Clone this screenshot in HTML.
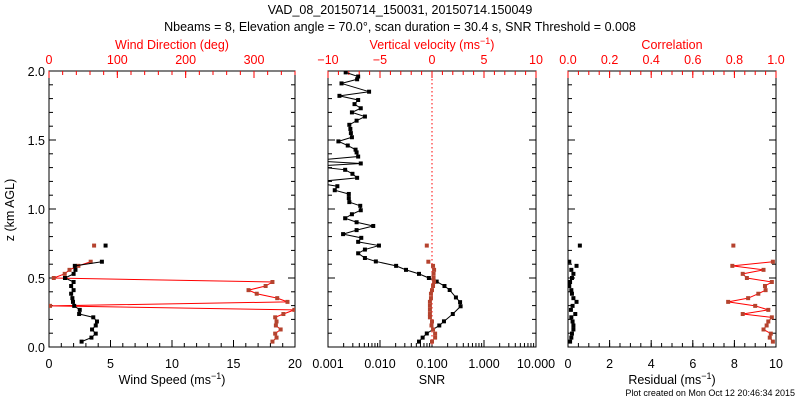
<!DOCTYPE html>
<html><head><meta charset="utf-8"><style>
html,body{margin:0;padding:0;background:#fff;}
svg{display:block;font-family:"Liberation Sans",sans-serif;}
</style></head><body>
<svg id="c" width="800" height="400" viewBox="0 0 800 400">
<text x="400" y="14" text-anchor="middle" font-size="12.5">VAD_08_20150714_150031, 20150714.150049</text>
<text x="400" y="31" text-anchor="middle" font-size="12.5">Nbeams = 8, Elevation angle = 70.0°, scan duration = 30.4 s, SNR Threshold = 0.008</text>
<text x="795" y="396" text-anchor="end" font-size="9">Plot created on Mon Oct 12 20:46:34 2015</text>
<text transform="translate(14,210) rotate(-90)" text-anchor="middle" font-size="12.5">z (km AGL)</text>
</svg>
<script>
const zLow=[0.039,0.068,0.097,0.127,0.156,0.185,0.215,0.239,0.269,0.298,0.327,0.354,0.386,0.412,0.442,0.471,0.50,0.53,0.559,0.588,0.618];
const zOut=0.735;
const windSpeed=[2.65,3.45,3.8,3.5,3.8,3.9,3.6,2.45,2.5,2.05,1.95,1.9,1.8,2.0,1.8,2.0,1.3,2.0,2.15,2.1,4.3];
const windSpeedOut=4.6;
const windDir=[327,333,331,339,332,333,331,343,359,1.5,349,334,304,292,317,327,7,23,30,43,61];
const windDirOut=66;
const vertVel=[0.0,0.3,0.3,0.1,-0.05,0,-0.2,-0.2,-0.2,-0.2,-0.2,-0.1,-0.1,0,0.1,0.2,0.15,0.15,0.2,0.1,-0.35];
const vertVelOut=-0.5;
const snrZ=[0.039,0.068,0.098,0.156,0.186,0.239,0.295,0.325,0.359,0.413,0.442,0.474,0.50,0.53,0.559,0.588,0.62,0.645,0.679,0.706,0.735,0.762,0.791,0.818,0.847,0.877,0.904,0.933,0.962,0.991,1.023,1.05,1.079,1.109,1.136,1.165,1.194,1.226,1.255,1.284,1.31,1.33,1.35,1.38,1.41,1.43,1.46,1.49,1.52,1.55,1.58,1.61,1.64,1.67,1.70,1.73,1.76,1.79,1.82,1.85,1.91,1.94,1.96,1.99];
const snrLog=[-1.25,-1.18,-1.10,-0.86,-0.77,-0.60,-0.45,-0.46,-0.54,-0.66,-0.76,-0.91,-1.06,-1.25,-1.50,-1.69,-2.08,-2.29,-2.42,-2.29,-2.02,-2.42,-2.36,-2.71,-2.45,-2.13,-2.45,-2.67,-2.54,-2.37,-2.38,-2.59,-2.60,-2.60,-2.87,-2.82,-3.3,-2.44,-2.53,-2.67,-3.3,-2.37,-3.3,-2.42,-2.45,-2.47,-2.62,-2.80,-2.54,-2.56,-2.57,-2.59,-2.45,-2.29,-2.54,-2.37,-2.49,-2.42,-2.78,-2.21,-2.74,-2.44,-2.42,-2.66];
const residual=[0.10,0.16,0.19,0.26,0.26,0.22,0.16,0.35,0.14,0.22,0.41,0.26,0.19,0.16,0.06,0.10,0.19,0.26,0.16,0.41,0.06];
const residualOut=0.57;
const corr=[0.985,0.97,0.975,0.94,0.955,0.963,0.98,0.84,0.963,0.90,0.77,0.866,0.915,0.95,0.947,0.98,0.86,0.84,0.94,0.79,0.985];
const corrOut=0.795;
const zTicks=["0.0","0.5","1.0","1.5","2.0"];

const svg=document.getElementById('c');
const NS="http://www.w3.org/2000/svg";
const T=71,B=347;
const yS=z=>B-(z/2)*(B-T);
function el(tag,at,parent){const e=document.createElementNS(NS,tag);for(const k in at)e.setAttribute(k,at[k]);(parent||svg).appendChild(e);return e;}
const panels=[{x0:49,x1:295,n:'left'},{x0:328,x1:536,n:'middle'},{x0:568,x1:776,n:'right'}];
const defs=el('defs',{});
panels.forEach((p,i)=>{const cp=el('clipPath',{id:'cp'+i},defs);el('rect',{x:p.x0,y:T,width:p.x1-p.x0,height:B-T},cp);});

function frame(p){
  const r=el('rect',{x:p.x0,y:T,width:p.x1-p.x0,height:B-T,fill:'none',stroke:'#000','stroke-width':1});
  
  
  for(let k=0;k<=20;k++){const y=yS(k*0.1);const L=k%5==0?7:4;
    el('line',{x1:p.x0,x2:p.x0+L,y1:y,y2:y,stroke:'#000'});
    el('line',{x1:p.x1,x2:p.x1-L,y1:y,y2:y,stroke:'#000'});}
}
panels.forEach(frame);
zTicks.forEach((t,i)=>{const tx=el('text',{x:45,y:yS(i*0.5)+5,'text-anchor':'end','font-size':12.5});tx.textContent=t;
  
  });

function xAxis(p,sc,majors,labels,minors,top,title,name){
  const col=top?'#f00':'#000';const y0=top?T:B;const dir=top?1:-1;
  minors.forEach(v=>{const x=sc(v);el('line',{x1:x,x2:x,y1:y0,y2:y0+dir*4,stroke:col});});
  majors.forEach((v,i)=>{const x=sc(v);el('line',{x1:x,x2:x,y1:y0,y2:y0+dir*7,stroke:col});
    const tx=el('text',{x:x,y:top?64:368,'text-anchor':'middle','font-size':12.5,fill:col});tx.textContent=labels[i];
    
    });
  const tt=el('text',{x:(p.x0+p.x1)/2,y:top?49:384,'text-anchor':'middle','font-size':12.5,fill:col});
  tt.innerHTML=title;
  
  
}
const L=panels[0],M=panels[1],R=panels[2];
const xWS=v=>L.x0+v/20*(L.x1-L.x0), xWD=v=>L.x0+v/360*(L.x1-L.x0);
const xSNR=lg=>M.x0+(lg+3)/4*(M.x1-M.x0), xW=v=>M.x0+(v+10)/20*(M.x1-M.x0);
const xRes=v=>R.x0+v/10*(R.x1-R.x0), xC=v=>R.x0+v*(R.x1-R.x0);
const rng=(a,b,s)=>{const r=[];for(let v=a;v<=b+1e-9;v+=s)r.push(+v.toFixed(4));return r;};
xAxis(L,xWS,[0,5,10,15,20],["0","5","10","15","20"],rng(0,20,1),false,'Wind Speed (ms<tspan dy="-5" font-size="9">−1</tspan><tspan dy="5">)</tspan>','wind-speed');
xAxis(L,xWD,[0,100,200,300],["0","100","200","300"],rng(0,360,20),true,'Wind Direction (deg)','wind-direction');
const snrMin=[];for(let d=-3;d<1;d++)for(let k=2;k<10;k++)snrMin.push(d+Math.log10(k));
xAxis(M,xSNR,[-3,-2,-1,0,1],["0.001","0.010","0.100","1.000","10.000"],snrMin,false,'SNR','snr');
xAxis(M,xW,[-10,-5,0,5,10],["−10","−5","0","5","10"],rng(-10,10,1),true,'Vertical velocity (ms<tspan dy="-5" font-size="9">−1</tspan><tspan dy="5">)</tspan>','vertical-velocity');
xAxis(R,xRes,[0,2,4,6,8,10],["0","2","4","6","8","10"],rng(0,10,0.5),false,'Residual (ms<tspan dy="-5" font-size="9">−1</tspan><tspan dy="5">)</tspan>','residual');
xAxis(R,xC,[0,0.2,0.4,0.6,0.8,1.0],["0.0","0.2","0.4","0.6","0.8","1.0"],rng(0,1,0.05),true,'Correlation','correlation');

const zl=el('line',{x1:xW(0),x2:xW(0),y1:T,y2:B,stroke:'#f00','stroke-dasharray':'1.5,2.5'});



function series(zs,vs,sc,lineCol,markCol,clip,name,line){
  const g=el('g',{'clip-path':'url(#cp'+clip+')'});
  
  
  if(line){const pl=el('polyline',{points:zs.map((z,i)=>sc(vs[i])+','+yS(z)).join(' '),fill:'none',stroke:lineCol,'stroke-width':1},g);
    
    }
  zs.forEach((z,i)=>{const c=el('rect',{x:sc(vs[i])-2,y:yS(z)-2,width:4,height:4,fill:markCol},g);
    
    });
}
const BR='#b5432e';
series(zLow,windDir,xWD,'#f00',BR,0,'wind-direction',true);
series([zOut],[windDirOut],xWD,'#f00',BR,0,'wind-direction-outlier',false);
series(zLow,windSpeed,xWS,'#000','#000',0,'wind-speed',true);
series([zOut],[windSpeedOut],xWS,'#000','#000',0,'wind-speed-outlier',false);
series(snrZ,snrLog,xSNR,'#000','#000',1,'snr',true);
series(zLow,vertVel,xW,BR,BR,1,'vertical-velocity',false);
series([zOut],[vertVelOut],xW,BR,BR,1,'vertical-velocity-outlier',false);
series(zLow,residual,xRes,'#000','#000',2,'residual',false);
series([zOut],[residualOut],xRes,'#000','#000',2,'residual-outlier',false);
series(zLow,corr,xC,'#f00',BR,2,'correlation',true);
series([zOut],[corrOut],xC,'#f00',BR,2,'correlation-outlier',false);
</script>
</body></html>
